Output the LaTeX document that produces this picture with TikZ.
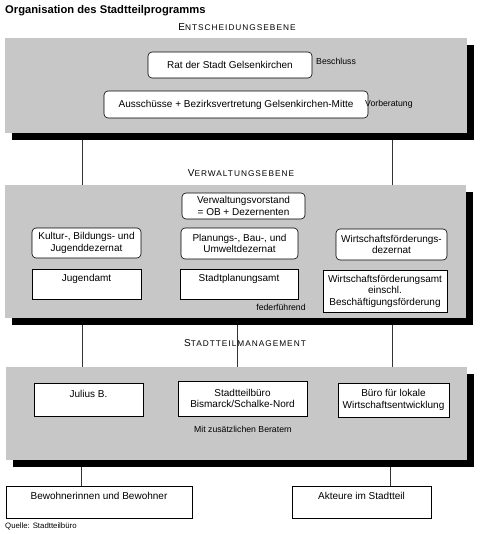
\documentclass[tikz,border=0pt]{standalone}
\usepackage{fontspec}
\setmainfont{Liberation Sans}
\newfontfamily\scfont[LetterSpace=12]{Liberation Sans}
\usetikzlibrary{shadows,backgrounds}
\newcommand\smcap[2]{{\scfont\fontsize{10}{12}\selectfont #1\fontsize{8.3}{10}\selectfont #2}}
\tikzset{
  panel/.style={fill=black!22, inner sep=0pt,
    drop shadow={opacity=1, fill=black, shadow xshift=7pt, shadow yshift=-7pt}},
  rbox/.style={draw, fill=white, rounded corners=4pt, line width=0.6pt, align=center,
    inner sep=0pt, font=\fontsize{10}{11.5}\selectfont},
  sbox/.style={draw, fill=white, line width=0.6pt, align=center,
    inner sep=0pt, font=\fontsize{10}{11.5}\selectfont},
  toptext/.style={text depth=#1},
  smalllab/.style={font=\fontsize{8.7}{10}\selectfont, inner sep=0pt},
  heading/.style={inner sep=0pt},
  conn/.style={line width=0.6pt, draw=black!80}
}
\begin{document}
\begin{tikzpicture}[x=1pt,y=-1pt]
\useasboundingbox (0,0) rectangle (480,534);

\node[anchor=west, inner sep=0pt, font=\fontsize{11.2}{13}\selectfont\bfseries] (title) at (5,11) {Organisation des Stadtteilprogramms};

\node[heading] (h1) at (237,27) {\smcap{E}{NTSCHEIDUNGSEBENE}};
\node[heading] (h2) at (241,173) {\smcap{V}{ERWALTUNGSEBENE}};
\node[heading] (h3) at (245,343) {\smcap{S}{TADTTEILMANAGEMENT}};

% panels
\node[panel, minimum width=462pt, minimum height=95pt] (p1) at (236,85.5) {};
\node[panel, minimum width=461pt, minimum height=133pt] (p2) at (235.5,251.5) {};
\node[panel, minimum width=461pt, minimum height=93pt] (p3) at (236.5,413.5) {};

% Entscheidungsebene
\node[rbox, minimum width=164pt, minimum height=26pt] (rat) at (230,65) {Rat der Stadt Gelsenkirchen};
\node[rbox, minimum width=264pt, minimum height=27pt] (aus) at (236,104.5) {Ausschüsse + Bezirksvertretung Gelsenkirchen-Mitte};
\node[smalllab, anchor=west] (besch) at (316,61) {Beschluss};
\node[smalllab, anchor=west] (vorb) at (365,104) {Vorberatung};

% Verwaltungsebene
\node[rbox, minimum width=123pt, minimum height=26pt] (vv) at (243.5,206) {Verwaltungsvorstand\\= OB + Dezernenten};
\node[rbox, minimum width=109pt, minimum height=30pt] (kult) at (86.5,243) {Kultur-, Bildungs- und\\Jugenddezernat};
\node[rbox, minimum width=117pt, minimum height=31pt] (plan) at (239.5,243.5) {Planungs-, Bau-, und\\Umweltdezernat};
\node[rbox, minimum width=111pt, minimum height=31pt] (wfd) at (391.5,244.5) {Wirtschaftsförderungs-\\dezernat};
\node[sbox, toptext=12pt, minimum width=109pt, minimum height=30pt] (jug) at (86.5,284) {Jugendamt};
\node[sbox, toptext=12pt, minimum width=118pt, minimum height=30pt] (spa) at (239,284) {Stadtplanungsamt};
\node[sbox, minimum width=124pt, minimum height=42pt] (wfa) at (385,291) {Wirtschaftsförderungsamt\\einschl.\\Beschäftigungsförderung};
\node[smalllab] (fed) at (281,307) {federführend};

% Stadtteilmanagement
\node[sbox, toptext=11pt, minimum width=109pt, minimum height=33pt] (jul) at (88.5,399.5) {Julius B.};
\node[sbox, minimum width=129pt, minimum height=35pt] (stb) at (242.5,398.5) {Stadtteilbüro\\Bismarck/Schalke-Nord};
\node[sbox, minimum width=111pt, minimum height=34pt] (buero) at (393.5,400) {Büro für lokale\\Wirtschaftsentwicklung};
\node[smalllab] (mit) at (243,429) {Mit zusätzlichen Beratern};

% bottom
\node[sbox, toptext=12pt, minimum width=186pt, minimum height=32pt] (bew) at (99,502) {Bewohnerinnen und Bewohner};
\node[sbox, toptext=12pt, minimum width=139pt, minimum height=32pt] (akt) at (361.5,502) {Akteure im Stadtteil};

\node[anchor=west, inner sep=0pt, font=\fontsize{7.8}{9}\selectfont] (quelle) at (5,526) {Quelle: Stadtteilbüro};

% connectors
\coordinate (xa) at (82,0);
\coordinate (xb) at (392,0);
\coordinate (xm) at (237,0);
\coordinate (xc) at (81,0);
\coordinate (xd) at (390,0);
\begin{scope}[on background layer]
\draw[conn] (p1.south -| xa) -- (p2.north -| xa);
\draw[conn] (p1.south -| xb) -- (p2.north -| xb);
\draw[conn] (p2.south -| xa) -- (p3.north -| xa);
\draw[conn] (p2.south -| xm) -- (p3.north -| xm);
\draw[conn] (p2.south -| xb) -- (p3.north -| xb);
\draw[conn] (p3.south -| xc) -- (bew.north -| xc);
\draw[conn] (p3.south -| xd) -- (akt.north -| xd);
\end{scope}
\end{tikzpicture}
\end{document}
